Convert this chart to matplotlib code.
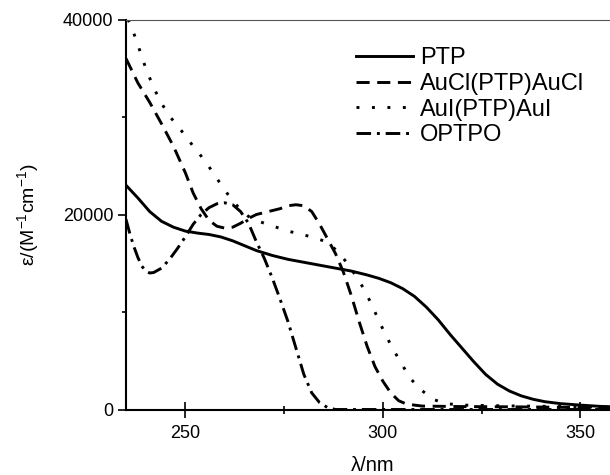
import matplotlib
matplotlib.use("Agg")
import matplotlib.pyplot as plt

plt.rcParams['font.family'] = ['Liberation Sans', 'DejaVu Sans']
plt.rcParams['mathtext.fontset'] = 'custom'
plt.rcParams['mathtext.rm'] = 'Liberation Sans'
plt.rcParams['mathtext.it'] = 'Liberation Sans:italic'
plt.rcParams['mathtext.default'] = 'regular'

labels = ["PTP", "AuCl(PTP)AuCl", "AuI(PTP)AuI", "OPTPO"]

ptp_x = [235, 238, 241, 244, 247, 250, 253, 256, 259, 262, 265, 268, 272, 276, 280, 284, 288, 292, 296, 299,
         302, 305, 308, 311, 314, 317, 320, 323, 326, 329, 332, 335, 338, 341, 345, 350, 355, 360]
ptp_y = [23000, 21700, 20300, 19300, 18700, 18300, 18100, 17950, 17700, 17300, 16800, 16300, 15800, 15400,
         15100, 14800, 14500, 14200, 13800, 13450, 13000, 12400, 11600, 10500, 9200, 7700, 6300, 4900, 3600,
         2600, 1900, 1400, 1050, 800, 600, 450, 320, 250]

aucl_x = [235, 238, 241, 244, 247, 250, 252, 254, 256, 258, 260, 262, 264, 266, 268, 270, 272, 274, 276, 278,
          280, 282, 284, 286, 288, 290, 292, 294, 296, 298, 300, 302, 304, 306, 310, 320, 330, 340, 350, 360]
aucl_y = [36000, 33500, 31500, 29300, 27000, 24300, 22200, 20600, 19400, 18800, 18600, 18700, 19100, 19600,
          20000, 20200, 20400, 20600, 20900, 21000, 20900, 20300, 19000, 17500, 16000, 14100, 11700, 9000,
          6500, 4400, 2900, 1700, 900, 550, 350, 300, 280, 250, 200, 150]

aui_x = [235.5, 236.4, 238, 240, 242, 244, 246, 248, 250, 252, 254, 256, 258, 260, 262, 264, 266, 268, 270,
         273, 276, 279, 282, 285, 287, 289, 291, 293, 295, 297, 299, 301, 303, 305, 307, 309, 311, 313, 316,
         320, 330, 340, 350, 360]
aui_y = [40000, 39250, 37400, 35000, 33000, 31400, 30100, 29100, 28100, 27000, 26000, 24900, 23700, 22500,
         21400, 20500, 19800, 19400, 19100, 18700, 18300, 18000, 17700, 17300, 16800, 16000, 15000, 13800,
         12500, 10900, 9100, 7400, 5900, 4500, 3200, 2200, 1600, 1000, 600, 450, 380, 330, 280, 230]

optpo_x = [235, 236, 237, 238, 239, 240, 241, 242, 244, 246, 248, 250, 252, 254, 256, 258, 260, 262, 264,
           266, 268, 270, 272, 274, 276, 278, 280, 282, 284, 286, 288, 300, 320, 340, 360]
optpo_y = [19500, 18000, 16700, 15600, 14700, 14200, 14000, 14050, 14500, 15400, 16500, 17700, 19000, 20000,
           20700, 21100, 21200, 21000, 20300, 19100, 17200, 15500, 13500, 11300, 9000, 6300, 3600, 1700, 700,
           200, 0, 0, 0, 0, 0]

xticks = [250, 300, 350]
yticks = [0, 20000, 40000]

W, H = 610, 475
fig = plt.figure(figsize=(W / 100, H / 100), dpi=100)
ax = fig.add_axes([126 / W, (H - 409.5) / H, (620 - 126) / W, (409.5 - 19.5) / H])

lw = 2.1
ax.plot(ptp_x, ptp_y, color='black', lw=lw, linestyle='-', label=labels[0])
ax.plot(aucl_x, aucl_y, color='black', lw=lw, linestyle=(0, (4.5, 2.6)), label=labels[1])
ax.plot(aui_x, aui_y, color='black', lw=lw, linestyle=(0, (1.0, 4.3)), label=labels[2])
ax.plot(optpo_x, optpo_y, color='black', lw=lw, linestyle=(0, (5.0, 2.0, 1.0, 2.0)), label=labels[3])

ax.set_xlim(235, 360)
ax.set_ylim(0, 40000)
ax.set_xticks(xticks)
ax.set_yticks(yticks)
ax.set_xticks([275, 325], minor=True)
ax.set_yticks([10000, 30000], minor=True)
ax.tick_params(axis='x', which='major', direction='inout', length=11, width=1.2, labelsize=13, pad=6)
ax.tick_params(axis='x', which='minor', direction='inout', length=6, width=1.2)
ax.tick_params(axis='y', which='major', direction='out', length=6, width=1.2, labelsize=13, pad=3)
ax.tick_params(axis='y', which='minor', direction='out', length=3, width=1.2)

for s in ['left', 'bottom']:
    ax.spines[s].set_linewidth(1.5)
ax.spines['right'].set_visible(False)
ax.spines['top'].set_linewidth(0.8)
ax.spines['top'].set_color('#555555')

ax.set_xlabel('λ/nm', fontsize=14.5, labelpad=10)
ax.set_ylabel(r'ε/(M$^{-1}$cm$^{-1}$)', fontsize=14, labelpad=16)

leg = ax.legend(loc='upper left', bbox_to_anchor=(356 / W, (H - 47) / H), bbox_transform=fig.transFigure,
                frameon=False, fontsize=17, handlelength=2.4, handletextpad=0.3, labelspacing=0.16,
                borderaxespad=0, borderpad=0)

fig.savefig('out.png', dpi=100)
